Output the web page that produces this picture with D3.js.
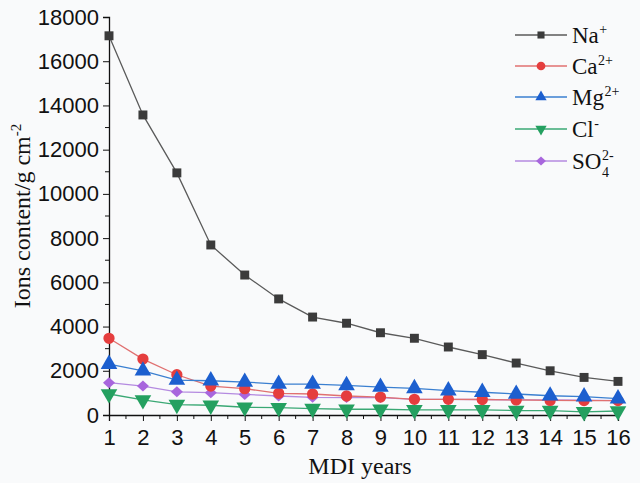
<!DOCTYPE html>
<html><head><meta charset="utf-8">
<script src="https://cdn.jsdelivr.net/npm/d3@7"></script>
<style>body{margin:0;background:#f9fafb;} svg{display:block;font-family:"Liberation Serif","Times New Roman",serif;}</style>
</head><body>
<svg id="c" width="640" height="483"></svg>
<script>
const years = [1,2,3,4,5,6,7,8,9,10,11,12,13,14,15,16];
const na  = [17150,13570,10950,7690,6330,5250,4430,4150,3720,3470,3075,2730,2350,2000,1700,1520];
const ca  = [3470,2530,1820,1310,1190,980,950,860,810,710,710,700,680,660,650,650];
const mg  = [2300,2000,1580,1550,1490,1400,1400,1340,1265,1200,1100,1030,950,870,830,740];
const cl  = [950,680,470,440,350,330,290,260,260,230,230,230,200,200,140,180];
const so4 = [1460,1310,1050,1010,930,860,800,790,790,710,710,700,680,680,670,650];
const yTicks = [0,2000,4000,6000,8000,10000,12000,14000,16000,18000];

const series = [
  {name:"Na", sup:"+", sub:"", vals:na, line:"#5a5a5a", fill:"#3b3b3b", sym:"square"},
  {name:"Ca", sup:"2+", sub:"", vals:ca, line:"#e07070", fill:"#e53e3e", sym:"circle"},
  {name:"Mg", sup:"2+", sub:"", vals:mg, line:"#3a7fd0", fill:"#1c5fcf", sym:"up"},
  {name:"Cl", sup:"-", sub:"", vals:cl, line:"#3aa874", fill:"#24a060", sym:"down"},
  {name:"SO", sup:"2-", sub:"4", vals:so4, line:"#b48ae0", fill:"#a866dd", sym:"diamond"}
];

const svg = d3.select("#c");
const x = d3.scaleLinear().domain([1,16]).range([109,618]);
const y = d3.scaleLinear().domain([0,18000]).range([415,17]);

const xAxis = d3.axisBottom(x).tickValues(years).tickSize(6).tickFormat(d3.format("d"));
const gx = svg.append("g").attr("transform","translate(0,415)").call(xAxis);
gx.selectAll("text").attr("font-size",22).attr("dy","0.95em").attr("fill","#111");
svg.append("g").selectAll("line").data(d3.range(1.5,16,1)).join("line")
  .attr("x1",d=>x(d)).attr("x2",d=>x(d)).attr("y1",415).attr("y2",419).attr("stroke","#111");
const yAxis = d3.axisLeft(y).tickValues(yTicks).tickSize(6).tickFormat(d3.format("d"));
const gy = svg.append("g").attr("transform","translate(109,0)").call(yAxis);
gy.selectAll("text").attr("font-size",22).attr("fill","#111").attr("dx","-0.05em");
svg.append("g").selectAll("line").data(d3.range(1000,18000,2000)).join("line")
  .attr("x1",109).attr("x2",105).attr("y1",d=>y(d)).attr("y2",d=>y(d)).attr("stroke","#111");
svg.selectAll(".domain").attr("stroke","#111").attr("stroke-width",1.3);
svg.selectAll(".tick line").attr("stroke","#111");

svg.append("text").attr("x",360).attr("y",474).attr("text-anchor","middle").attr("font-size",24).attr("fill","#111").text("MDI years");
const yt = svg.append("text").attr("transform","translate(30,216) rotate(-90)").attr("text-anchor","middle").attr("font-size",24).attr("fill","#111");
yt.append("tspan").text("Ions content/g cm");
yt.append("tspan").attr("dy",-9).attr("font-size",15).text("-2");

function sym(s, size){
  const m = {square:d3.symbolSquare, circle:d3.symbolCircle, up:d3.symbolTriangle, diamond:d3.symbolSquare, down:d3.symbolTriangle};
  return d3.symbol().type(m[s]).size(size)();
}
const sizes = {square:80, circle:100, up:120, down:120, diamond:60};
function tf(s){ return (s.sym==="down"?" rotate(180)":"") + (s.sym==="diamond"?" scale(1.1,1) rotate(45)":""); }

const line = d3.line().x((d,i)=>x(years[i])).y(d=>y(d));
[3,4,1,2,0].forEach(k=>{
  const s = series[k];
  svg.append("path").datum(s.vals).attr("d",line).attr("fill","none").attr("stroke",s.line).attr("stroke-width",1.3);
  svg.append("g").selectAll("path").data(s.vals).join("path")
    .attr("d",sym(s.sym,sizes[s.sym]))
    .attr("transform",(d,i)=>`translate(${x(years[i])},${y(d)})` + tf(s))
    .attr("fill",s.fill);
});

const ly = [35,66,97,129,161];
const lsizes = {square:50, circle:60, up:55, down:55, diamond:40};
series.forEach((s,i)=>{
  const g = svg.append("g").attr("transform",`translate(0,${ly[i]})`);
  g.append("line").attr("x1",515).attr("x2",567).attr("stroke",s.line).attr("stroke-width",1.3);
  g.append("path").attr("d",sym(s.sym,lsizes[s.sym])).attr("transform",`translate(541,0)`+tf(s)).attr("fill",s.fill);
  const t = g.append("text").attr("x",572).attr("y",8).attr("font-size",23).attr("fill","#111").text(s.name);
  const w = t.node().getComputedTextLength();
  g.append("text").attr("x",572+w+0.5).attr("y",-1).attr("font-size",14).attr("fill","#111").text(s.sup);
  if(s.sub) g.append("text").attr("x",572+w+0.5).attr("y",16).attr("font-size",14).attr("fill","#111").text(s.sub);
});
</script>
</body></html>
